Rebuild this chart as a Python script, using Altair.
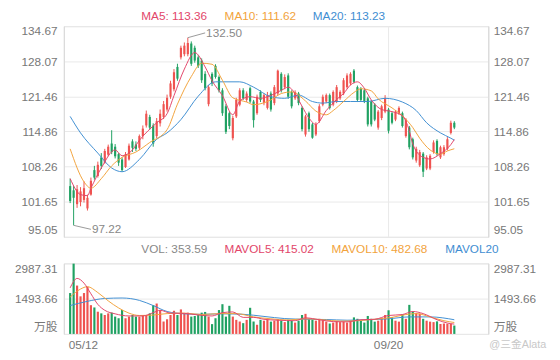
import altair as alt
import pandas as pd

# ---------------- data ----------------
opens = [104.6, 103.8, 101.2, 101.6, 102.0, 100.4, 103.0, 107.6, 106.5, 110.0,
         109.0, 110.5, 112.6, 112.0, 110.6, 109.6, 108.2, 109.6, 113.0, 112.4,
         111.8, 114.0, 116.0, 117.6, 116.0, 114.0, 116.4, 117.6, 119.0, 121.4,
         122.8, 127.0, 128.8, 129.4, 129.4, 131.4, 130.6, 128.8, 128.2, 125.7,
         120.0, 125.7, 127.2, 125.1, 122.6, 119.6, 118.3, 113.6, 117.7, 119.9,
         122.6, 120.8, 123.0, 120.5, 118.3, 122.3, 120.2, 119.3, 122.0, 120.2,
         122.0, 125.7, 123.2, 125.4, 122.3, 121.1, 122.0, 119.3, 114.3, 118.3,
         116.2, 114.3, 116.8, 119.9, 120.5, 121.7, 119.9, 120.5, 121.1, 122.0,
         123.2, 123.9, 126.3, 123.2, 122.9, 122.6, 121.1, 120.5, 119.9, 115.6,
         117.4, 118.6, 119.0, 118.3, 117.1, 118.3, 118.3, 114.0, 115.6, 113.4,
         109.4, 108.5, 110.7, 107.9, 107.9, 111.0, 113.1, 110.0, 110.6, 111.6,
         114.6, 116.5]
closes = [101.8, 102.4, 104.0, 103.6, 104.2, 102.4, 105.6, 106.2, 108.6, 108.4,
          111.2, 112.0, 111.0, 110.2, 109.0, 107.6, 110.6, 112.2, 111.8, 111.6,
          114.0, 115.4, 118.2, 115.6, 112.6, 116.8, 118.2, 120.0, 121.2, 123.9,
          126.0, 124.8, 130.6, 131.0, 131.5, 127.6, 128.2, 127.2, 124.5, 123.0,
          123.2, 123.9, 125.1, 122.6, 118.3, 114.8, 115.9, 117.4, 120.8, 122.6,
          121.1, 122.0, 120.5, 117.0, 121.4, 120.8, 121.7, 121.7, 119.0, 123.2,
          126.3, 122.6, 125.1, 121.4, 119.6, 122.3, 120.2, 115.3, 117.7, 115.3,
          113.7, 116.2, 119.6, 121.4, 121.7, 119.3, 122.3, 123.2, 122.3, 124.5,
          125.4, 125.7, 124.2, 120.8, 120.8, 120.5, 116.2, 116.2, 117.1, 118.6,
          119.6, 121.1, 115.0, 116.5, 118.6, 119.3, 115.9, 117.1, 111.9, 110.0,
          111.6, 111.0, 107.3, 110.0, 110.3, 112.8, 110.6, 111.9, 111.9, 113.4,
          116.5, 115.6]
highs = [106.0, 104.6, 104.8, 104.4, 105.5, 103.0, 106.2, 108.4, 109.2, 110.8,
         111.6, 112.4, 115.1, 112.5, 110.8, 110.0, 111.0, 112.6, 113.4, 113.0,
         114.3, 116.0, 118.8, 118.0, 116.4, 117.4, 119.0, 120.6, 121.8, 124.4,
         126.6, 127.6, 131.0, 131.6, 132.5, 131.8, 131.0, 129.2, 128.6, 126.2,
         123.6, 126.0, 127.5, 125.4, 123.0, 120.0, 118.6, 117.8, 121.2, 123.0,
         123.0, 122.4, 123.3, 120.8, 121.8, 122.6, 122.0, 122.3, 122.4, 123.6,
         126.5, 126.0, 125.6, 125.8, 122.6, 122.6, 122.3, 119.6, 118.0, 118.6,
         116.5, 116.6, 120.0, 121.8, 122.0, 122.0, 122.6, 123.6, 122.6, 124.9,
         125.8, 126.0, 126.6, 123.5, 123.2, 122.9, 121.4, 120.8, 120.2, 118.9,
         119.9, 121.7, 119.3, 118.6, 118.9, 119.6, 118.6, 117.4, 115.9, 113.7,
         112.0, 111.4, 111.0, 110.4, 110.6, 113.2, 113.4, 112.2, 112.3, 113.8,
         116.9, 116.8]
lows = [101.4, 97.22, 100.5, 100.8, 101.5, 100.0, 102.8, 105.8, 106.2, 107.8,
        108.8, 110.2, 110.6, 109.8, 108.4, 107.3, 108.0, 109.4, 111.0, 111.2,
        111.4, 113.4, 115.6, 115.2, 112.0, 113.6, 115.8, 117.2, 118.6, 121.0,
        122.4, 124.4, 128.4, 129.0, 129.0, 127.2, 127.8, 126.8, 124.0, 122.6,
        119.6, 123.4, 124.8, 122.2, 117.8, 114.4, 115.3, 113.2, 117.4, 119.6,
        120.8, 120.4, 120.2, 115.6, 118.0, 120.4, 119.8, 119.0, 118.6, 119.8,
        121.6, 122.2, 122.8, 121.0, 119.2, 120.8, 119.8, 114.9, 113.9, 114.8,
        113.5, 114.0, 116.5, 119.6, 120.2, 119.0, 119.6, 120.2, 120.8, 121.7,
        122.9, 123.6, 123.9, 120.4, 120.5, 120.2, 115.8, 115.8, 116.8, 115.2,
        117.0, 118.3, 114.5, 116.2, 116.8, 118.0, 115.6, 113.7, 111.5, 109.6,
        109.0, 108.2, 106.3, 107.6, 107.6, 110.7, 110.3, 109.7, 110.3, 111.3,
        114.3, 115.3]
volumes = [1730, 2975, 2047, 1590, 1730, 2000, 1217, 1120, 940, 870,
           800, 870, 900, 733, 664, 1010, 664, 733, 800, 733,
           733, 800, 800, 870, 1217, 1286, 1010, 525, 620, 800,
           980, 800, 1037, 870, 900, 733, 760, 800, 900, 930,
           733, 415, 664, 1010, 1258, 733, 1190, 733, 595, 525,
           456, 595, 1106, 525, 387, 595, 560, 600, 520, 560,
           620, 560, 500, 600, 560, 480, 560, 800, 850, 640,
           600, 560, 640, 580, 520, 440, 480, 540, 500, 520,
           480, 560, 700, 640, 560, 480, 760, 640, 520, 560,
           680, 800, 1000, 700, 560, 520, 820, 640, 1230, 950,
           880, 860, 640, 560, 520, 500, 532, 420, 440, 430,
           431, 353.59]

ma5_i = [0, 3, 5, 6, 9, 13, 15, 18, 20, 25, 28, 30, 33, 36, 39, 41, 44, 47, 49, 52,
         55, 57, 61, 63, 65, 67, 69, 71, 74, 77, 79, 81, 83, 85, 87, 90, 93, 96, 98, 99,
         102, 104, 107, 110, 111]
ma5_v = [106.0, 103.0, 102.8, 104.2, 108.0, 111.4, 110.3, 111.4, 113.2, 116.5, 118.2, 121.6,
         126.6, 129.7, 127.0, 124.4, 121.6, 118.0, 120.6, 121.4, 121.1, 121.4, 122.6, 123.2,
         122.0, 119.6, 117.4, 116.2, 118.8, 120.9, 122.0, 123.6, 124.2, 123.0, 120.8, 119.0,
         118.6, 117.8, 115.0, 112.5, 110.0, 109.7, 110.7, 112.4, 113.36]
ma10_i = [0, 4, 6, 9, 12, 15, 19, 23, 28, 31, 35, 38, 41, 44, 47, 51, 53, 58, 61, 64,
          68, 71, 74, 76, 79, 82, 84, 87, 89, 93, 96, 99, 101, 104, 107, 109, 111]
ma10_v = [111.6, 105.4, 104.2, 106.0, 108.4, 110.0, 111.0, 112.8, 115.2, 120.0, 125.2, 127.7,
          127.5, 124.5, 121.2, 120.4, 119.9, 120.8, 122.0, 122.3, 120.6, 118.7, 118.0, 118.8,
          120.5, 122.2, 122.9, 122.5, 121.0, 119.3, 117.8, 115.6, 113.6, 111.4, 110.6, 111.2,
          111.62]
ma20_i = [0, 3, 8, 12, 15, 20, 25, 28, 32, 37, 42, 49, 53, 58, 62, 66, 70, 73, 77, 81,
          86, 91, 96, 100, 103, 107, 110, 111]
ma20_v = [117.7, 114.6, 110.8, 108.0, 107.3, 109.6, 113.4, 114.6, 117.1, 121.5, 124.2, 124.2,
          123.2, 121.4, 121.1, 121.7, 120.5, 120.2, 120.5, 120.5, 120.5, 121.1, 120.4, 118.8,
          116.5, 114.6, 113.6, 113.23]

mv5_i = [0, 2, 4, 6, 8, 10, 13, 17, 21, 24, 26, 29, 33, 37, 41, 44, 47, 50, 53, 56,
         60, 65, 68, 72, 76, 80, 84, 88, 92, 96, 99, 102, 106, 109, 111]
mv5_v = [1950, 2350, 2150, 1700, 1250, 1000, 850, 760, 760, 900, 1000, 880, 870, 800, 760,
         900, 930, 700, 700, 620, 580, 560, 680, 600, 520, 510, 600, 620, 780, 820, 950,
         860, 600, 460, 415.02]
mv10_i = [0, 3, 5, 8, 11, 14, 17, 20, 24, 28, 33, 38, 43, 48, 53, 58, 63, 68, 73, 78,
          83, 88, 93, 97, 100, 104, 108, 111]
mv10_v = [1560, 1900, 2000, 1750, 1400, 1100, 880, 780, 800, 860, 880, 820, 860, 860, 720,
          640, 590, 640, 600, 540, 560, 620, 700, 820, 860, 720, 560, 482.68]
mv20_i = [0, 5, 10, 15, 20, 24, 28, 33, 38, 44, 50, 56, 62, 68, 74, 80, 86, 92, 98, 104, 111]
mv20_v = [1200, 1380, 1500, 1520, 1420, 1200, 950, 850, 830, 850, 830, 740, 650, 620, 610,
          580, 600, 640, 720, 720, 600]

price_ticks = [95.05, 101.65, 108.26, 114.86, 121.46, 128.07, 134.67]
vol_ticks = [0, 1493.66, 2987.31]
date_idx = [0, 92]
date_lbl = ["05/12", "09/20"]

# ---------------- style ----------------
RED = "#ef5350"
GREEN = "#20a162"
C5 = "#e2466a"
C10 = "#f2a33c"
C20 = "#3f8ed2"
GRID = "#e8e8e8"
DOM = "#d8d8d8"
LBL = "#777777"
FONT = "Liberation Sans, Arial, 'Noto Sans CJK SC', sans-serif"

df = pd.DataFrame({"i": list(range(len(opens))), "open": opens, "close": closes,
                   "high": highs, "low": lows, "vol": volumes})
df["dir"] = ["up" if c >= o else "down" for o, c in zip(opens, closes)]
color = alt.Color("dir:N", scale=alt.Scale(domain=["up", "down"], range=[RED, GREEN]), legend=None)

xs = alt.Scale(domain=[-0.4, 119.4], nice=False, zero=False)
X = alt.X("i:Q", scale=xs, axis=None)
ps = alt.Scale(domain=[price_ticks[0], price_ticks[-1]], nice=False, zero=False)
vs = alt.Scale(domain=[vol_ticks[0], vol_ticks[-1]], nice=False, zero=False)


def yaxis(orient, values, grid, label_expr=None):
    kw = dict(orient=orient, values=values, format=".2f", grid=grid, gridColor=GRID,
              domainColor=DOM, ticks=False, labelPadding=7 if orient == "left" else 5,
              labelFlush=True, labelColor=LBL, labelFontSize=12, labelFont=FONT, title=None)
    if orient == "left":
        kw.update(minExtent=56, maxExtent=56)
    if label_expr:
        kw["labelExpr"] = label_expr
    return alt.Axis(**kw)


vline = alt.Chart(pd.DataFrame({"i": [date_idx[1]]})).mark_rule(color=GRID, strokeWidth=1).encode(x=X)

# ---------------- price panel ----------------
wick = alt.Chart(df).mark_rule(strokeWidth=1).encode(
    x=X, y=alt.Y("low:Q", scale=ps, axis=yaxis("left", price_ticks, True)), y2="high:Q", color=color)
body = alt.Chart(df).mark_bar(size=2.2).encode(
    x=X, y=alt.Y("open:Q", scale=ps, axis=yaxis("right", price_ticks, False)), y2="close:Q", color=color)


def line(ix, vals, col, scale):
    return alt.Chart(pd.DataFrame({"i": ix, "v": vals})).mark_line(
        interpolate="monotone", strokeWidth=1, color=col, clip=True).encode(
        x=X, y=alt.Y("v:Q", scale=scale, axis=None))


def label(text, col, px, py):
    return alt.Chart(pd.DataFrame({"t": [text]})).mark_text(
        align="left", baseline="alphabetic", fontSize=12, font=FONT, color=col).encode(
        x=alt.value(px), y=alt.value(py), text="t:N")


imax = highs.index(max(highs))
imin = lows.index(min(lows))
ann = pd.DataFrame({"i": [imax, imin], "v": [highs[imax], lows[imin]],
                    "i2": [imax + 5, imin + 5], "v2": [highs[imax] + 0.9, lows[imin] - 0.75],
                    "t": [f"{highs[imax]:.2f}", f"{lows[imin]:.2f}"]})
ann_line = alt.Chart(ann).mark_rule(color="#999999", strokeWidth=1).encode(
    x=X, y=alt.Y("v:Q", scale=ps, axis=None), x2="i2:Q", y2="v2:Q")
ann_text = alt.Chart(ann).mark_text(align="left", baseline="middle", dx=1, fontSize=12,
                                     font=FONT, color="#888888").encode(
    x=alt.X("i2:Q", scale=xs, axis=None), y=alt.Y("v2:Q", scale=ps, axis=None), text="t:N")

price = alt.layer(
    vline, wick, body,
    line(ma20_i, ma20_v, C20, ps), line(ma10_i, ma10_v, C10, ps), line(ma5_i, ma5_v, C5, ps),
    ann_line, ann_text,
    label(f"MA5: {ma5_v[-1]:.2f}", C5, 79, -6),
    label(f"MA10: {ma10_v[-1]:.2f}", C10, 164, -6),
    label(f"MA20: {ma20_v[-1]:.2f}", C20, 254, -6),
).resolve_scale(y="shared").resolve_axis(y="independent").properties(width=433, height=215)

# ---------------- volume panel ----------------
vexpr = "datum.value == 0 ? '万股' : format(datum.value, '.2f')"
vbar = alt.Chart(df).mark_bar(size=2.2).encode(
    x=X, y=alt.Y("vol:Q", scale=vs, axis=yaxis("left", vol_ticks, True, vexpr)), color=color)
vright = alt.Chart(df).mark_bar(size=2.2, opacity=0).encode(
    x=X, y=alt.Y("vol:Q", scale=vs, axis=yaxis("right", vol_ticks, False, vexpr)))

dates = pd.DataFrame({"i": date_idx, "t": date_lbl})
date_first = alt.Chart(dates.iloc[:1]).mark_text(
    align="left", baseline="middle", fontSize=12, font=FONT, color=LBL, dx=-1.5).encode(
    x=X, y=alt.value(83), text="t:N")
date_rest = alt.Chart(dates.iloc[1:]).mark_text(
    align="center", baseline="middle", fontSize=12, font=FONT, color=LBL).encode(
    x=X, y=alt.value(83), text="t:N")

wm = alt.Chart(pd.DataFrame({"t": ["@三金Alata"]})).mark_text(
    align="left", baseline="middle", fontSize=11, font=FONT, color="#c8c8c8").encode(
    x=alt.value(434), y=alt.value(83), text="t:N")

volume = alt.layer(
    vline, vbar, vright,
    line(mv20_i, mv20_v, C20, vs), line(mv10_i, mv10_v, C10, vs), line(mv5_i, mv5_v, C5, vs),
    label(f"VOL: {volumes[-1]:.2f}", "#888888", 79, -11),
    label(f"MAVOL5: {mv5_v[-1]:.2f}", C5, 164, -11),
    label(f"MAVOL10: {mv10_v[-1]:.2f}", C10, 273, -11),
    label("MAVOL20", C20, 389, -11),
    date_first, date_rest, wm,
).resolve_scale(y="shared").resolve_axis(y="independent").properties(width=433, height=72)

chart = alt.vconcat(price, volume, spacing=4).properties(
    padding={"left": 0, "top": -2, "right": 5, "bottom": 0}
).configure_view(stroke=None).configure(background="white")

chart.save("out.html", embed_options={"renderer": "svg", "actions": False})
